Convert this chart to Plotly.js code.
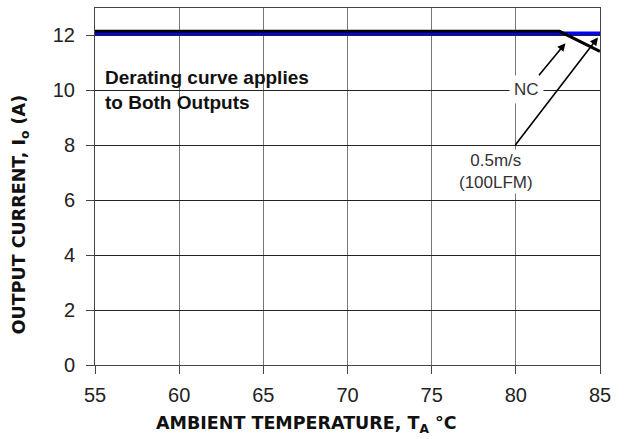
<!DOCTYPE html>
<html><head><meta charset="utf-8">
<script src="https://cdn.plot.ly/plotly-3.0.1.min.js"></script>
<style>body{margin:0;background:#fff}#c{width:628px;height:439px}</style>
</head><body><div id="c"></div>
<script>
// Data
var xTicks = [55, 60, 65, 70, 75, 80, 85];
var yTicks = [0, 2, 4, 6, 8, 10, 12];
var ncX = [55, 82.6, 85];
var ncY = [12.15, 12.15, 11.42];
var airX = [55, 85];
var airY = [12.08, 12.08];

var traces = [
  {x: airX, y: airY, mode: 'lines', line: {color: '#0000ff', width: 3.5}, hoverinfo: 'skip'},
  {x: ncX, y: ncY, mode: 'lines', line: {color: '#000000', width: 3}, hoverinfo: 'skip'}
];

var titleFont = {family: 'DejaVu Sans, sans-serif', size: 17.5, color: '#111', weight: 'bold'};

var layout = {
  width: 628, height: 439,
  margin: {l: 95, r: 28, t: 8, b: 74},
  paper_bgcolor: '#fff', plot_bgcolor: '#fff',
  showlegend: false,
  font: {family: 'Liberation Sans, Arial, sans-serif', color: '#222'},
  xaxis: {
    range: [55, 85], tickvals: xTicks, ticktext: xTicks.map(String),
    showgrid: true, gridcolor: '#777', gridwidth: 1,
    zeroline: false, showline: true, linecolor: '#444', linewidth: 1, mirror: true,
    ticks: 'outside', ticklen: 8, tickcolor: '#444', ticklabelstandoff: 4,
    tickfont: {size: 20, color: '#222'}
  },
  yaxis: {
    range: [0, 13], tickvals: yTicks, ticktext: yTicks.map(String),
    showgrid: true, gridcolor: '#222', gridwidth: 1,
    zeroline: false, showline: true, linecolor: '#444', linewidth: 1, mirror: true,
    ticks: 'outside', ticklen: 8, tickcolor: '#444', ticklabelstandoff: 7,
    tickfont: {size: 20, color: '#222'}
  },
  annotations: [
    {x: 0.418, y: -0.168, xref: 'paper', yref: 'paper', xanchor: 'center', yanchor: 'middle',
     showarrow: false, text: 'AMBIENT TEMPERATURE, T<sub>A</sub> °C', font: titleFont},
    {x: -0.148, y: 0.42, xref: 'paper', yref: 'paper', xanchor: 'center', yanchor: 'middle',
     showarrow: false, textangle: -90, text: 'OUTPUT CURRENT, I<sub>o</sub> (A)', font: titleFont},
    {x: 55.45, y: 10.0, xref: 'x', yref: 'y', xanchor: 'left', yanchor: 'middle', showarrow: false,
     align: 'left', text: '<b>Derating curve applies<br>to Both Outputs</b>',
     font: {size: 19, color: '#111', family: 'Liberation Sans, Arial, sans-serif'}},
    {x: 80.65, y: 10.05, xref: 'x', yref: 'y', showarrow: false, text: 'NC', bgcolor: '#fff',
     borderpad: 4, font: {size: 17, color: '#333'}},
    {x: 82.95, y: 11.72, ax: 81.3, ay: 10.5, xref: 'x', yref: 'y', axref: 'x', ayref: 'y',
     showarrow: true, arrowhead: 2, arrowsize: 1, arrowwidth: 1.6, arrowcolor: '#000', text: ''},
    {x: 84.88, y: 11.93, ax: 79.9, ay: 7.96, xref: 'x', yref: 'y', axref: 'x', ayref: 'y',
     showarrow: true, arrowhead: 2, arrowsize: 1, arrowwidth: 1.6, arrowcolor: '#000', text: ''},
    {x: 78.8, y: 7.04, xref: 'x', yref: 'y', showarrow: false, bgcolor: '#fff', borderpad: 1,
     text: '0.5m/s<br>(100LFM)', font: {size: 17, color: '#333'}}
  ]
};
Plotly.newPlot('c', traces, layout, {staticPlot: true, displayModeBar: false});
</script></body></html>
